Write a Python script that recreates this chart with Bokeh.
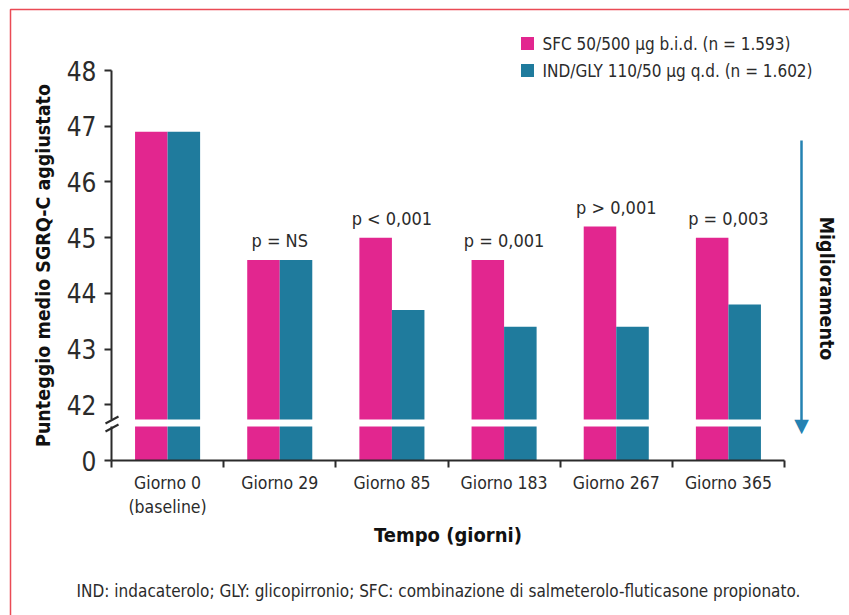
import math
import subprocess
from bokeh.plotting import figure
from bokeh.models import Range1d, FixedTicker, ColumnDataSource
from bokeh.core.properties import value
from bokeh.embed import file_html
from bokeh.resources import INLINE

# ---------------- data ----------------
categories = ["Giorno 0\n(baseline)", "Giorno 29", "Giorno 85", "Giorno 183", "Giorno 267", "Giorno 365"]
sfc = [46.9, 44.6, 45.0, 44.6, 45.2, 45.0]
indgly = [46.9, 44.6, 43.7, 43.4, 43.4, 43.8]
p_labels = ["", "p = NS", "p < 0,001", "p = 0,001", "p > 0,001", "p = 0,003"]
y_tick_values = [0, 42, 43, 44, 45, 46, 47, 48]
series_names = ["SFC 50/500 μg b.i.d. (n = 1.593)", "IND/GLY 110/50 μg q.d. (n = 1.602)"]
colors = ["#e2268f", "#1f7b9d"]
y_title = "Punteggio medio SGRQ-C aggiustato"
x_title = "Tempo (giorni)"
footnote = "IND: indacaterolo; GLY: glicopirronio; SFC: combinazione di salmeterolo-fluticasone propionato."
arrow_label = "Miglioramento"


# ---------------- font ----------------
def pick_font(cands):
    try:
        out = subprocess.run(["fc-list", ":", "family"], capture_output=True, text=True).stdout
    except Exception:
        out = ""
    fams = set()
    for line in out.splitlines():
        for f in line.split(","):
            fams.add(f.strip())
    for c in cands:
        if c in fams:
            return c
    return cands[-1]


FONT = pick_font(["Liberation Sans Narrow", "DejaVu Sans Condensed", "Roboto Condensed", "Roboto"])

# ---------------- layout constants ----------------
W, H = 849, 615
L, R, T, B = 111, 784, 70, 460
BREAK_BASE = 41  # values >= 42 are drawn at (v - 41) on the display axis
N = len(categories)
YMAX = max(y_tick_values) - BREAK_BASE

TXT = "#2b2b2b"
AX = "#2b2b2b"
ARROW = "#2482b2"


def disp(v):
    return 0 if v == 0 else v - BREAK_BASE


def xd(px):
    return (px - L) / (R - L) * N


def yd(py):
    return (B - py) / (B - T) * YMAX


centers = [i + 0.5 for i in range(N)]
off = 0.145
bw = 0.29

src = ColumnDataSource(dict(
    xs=[c - off for c in centers],
    xi=[c + off for c in centers],
    ys=[disp(v) for v in sfc],
    yi=[disp(v) for v in indgly],
))

p = figure(width=W, height=H, output_backend="svg", toolbar_location=None,
           x_range=Range1d(0, N), y_range=Range1d(0, YMAX),
           min_border_left=L, min_border_right=W - R, min_border_top=T, min_border_bottom=H - B)
p.outline_line_color = None
p.xgrid.visible = False
p.ygrid.visible = False
p.background_fill_color = "white"
p.border_fill_color = "white"

p.vbar(x="xs", top="ys", width=bw, bottom=0, source=src, fill_color=colors[0], line_color=None)
p.vbar(x="xi", top="yi", width=bw, bottom=0, source=src, fill_color=colors[1], line_color=None)

# p-value labels
lab_src = ColumnDataSource(dict(
    x=centers,
    y=[disp(max(a, b)) + 0.34 for a, b in zip(sfc, indgly)],
    t=p_labels,
))
p.text(x="x", y="y", text="t", source=lab_src, text_align="center", text_baseline="middle",
       text_font=value(FONT), text_font_size="18px", text_color=TXT)

# axis break (white band across bars + axis)
p.quad(left=xd(95), right=N, bottom=yd(426), top=yd(419), fill_color="white", line_color=None,
       level="overlay")
p.segment(x0=[xd(105), xd(105)], y0=[yd(423), yd(431)], x1=[xd(118), xd(118)], y1=[yd(416), yd(424)],
          line_color=AX, line_width=2, level="overlay")

# y axis
ya = p.yaxis[0]
ya.ticker = FixedTicker(ticks=[disp(v) for v in y_tick_values])
ya.major_label_overrides = {disp(v): str(v) for v in y_tick_values}
ya.axis_line_color = AX
ya.axis_line_width = 2
ya.major_tick_line_color = AX
ya.major_tick_line_width = 2
ya.major_tick_out = 7
ya.major_tick_in = 0
ya.minor_tick_line_color = None
ya.major_label_text_font = FONT
ya.major_label_text_font_size = "26px"
ya.major_label_text_color = TXT
ya.major_label_standoff = 8
ya.axis_label = y_title
ya.axis_label_text_font = FONT
ya.axis_label_text_font_style = "bold"
ya.axis_label_text_font_size = "19.5px"
ya.axis_label_text_color = "#111111"
ya.axis_label_standoff = 9

# x axis
xa = p.xaxis[0]
xa.ticker = FixedTicker(ticks=centers, minor_ticks=list(range(N + 1)))
xa.major_label_overrides = {c: lab for c, lab in zip(centers, categories)}
xa.axis_line_color = AX
xa.axis_line_width = 2
xa.major_tick_line_color = None
xa.major_tick_out = 0
xa.major_tick_in = 0
xa.minor_tick_line_color = AX
xa.minor_tick_line_width = 2
xa.minor_tick_out = 7
xa.minor_tick_in = 0
xa.major_label_text_font = FONT
xa.major_label_text_font_size = "17.5px"
xa.major_label_text_color = TXT
xa.major_label_standoff = 5
xa.axis_label = x_title
xa.axis_label_text_font = FONT
xa.axis_label_text_font_style = "bold"
xa.axis_label_text_font_size = "20px"
xa.axis_label_text_color = "#111111"
xa.axis_label_standoff = 3

# legend (drawn as overlay glyphs so it is not clipped to the frame)
leg_src = ColumnDataSource(dict(
    x=[xd(527), xd(527)],
    y=[yd(43), yd(70)],
    tx=[xd(542), xd(542)],
    label=series_names,
    color=colors,
))
p.rect(x="x", y="y", width=13, height=13, width_units="screen", height_units="screen",
       fill_color="color", line_color=None, source=leg_src, level="overlay")
p.text(x="tx", y="y", text="label", source=leg_src, text_align="left", text_baseline="middle",
       text_font=value(FONT), text_font_size="17px", text_color=TXT, level="overlay")

# improvement arrow
p.segment(x0=[xd(801)], y0=[yd(140)], x1=[xd(801)], y1=[yd(422)], line_color=ARROW,
          line_width=2.5, level="overlay")
p.text(x=[xd(801)], y=[yd(424)], text=["\u25BC"], text_align="center", text_baseline="middle",
       text_font=value("DejaVu Sans"), text_font_size="19px", text_color=ARROW, level="overlay")
p.text(x=[xd(826)], y=[yd(288)], text=[arrow_label], angle=-math.pi / 2,
       text_align="center", text_baseline="middle", text_font=value(FONT),
       text_font_style="bold", text_font_size="19.5px", text_color="#111111", level="overlay")

# footnote
p.text(x=[xd(438)], y=[yd(590)], text=[footnote], text_align="center",
       text_baseline="middle", text_font=value(FONT), text_font_size="17px",
       text_color=TXT, level="overlay")

# red frame
p.quad(left=xd(10), right=xd(W + 20), top=yd(9), bottom=yd(H + 20), fill_color=None,
       line_color="#ea4a55", line_width=1.5, level="overlay")

open("out.html", "w").write(file_html(p, INLINE))
